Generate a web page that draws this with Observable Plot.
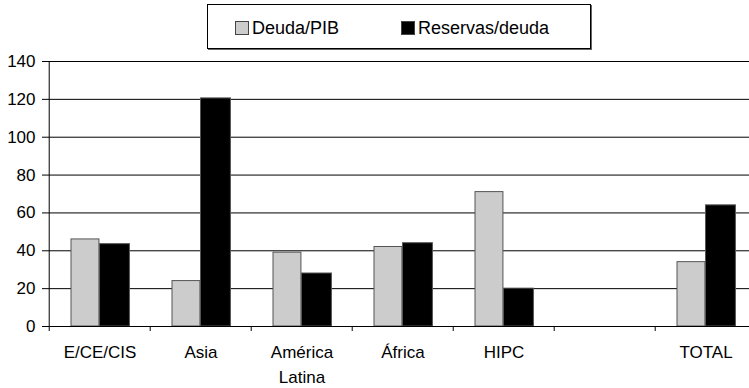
<!DOCTYPE html>
<html>
<head>
<meta charset="utf-8">
<script src="https://cdn.jsdelivr.net/npm/d3@7"></script>
<script src="https://cdn.jsdelivr.net/npm/@observablehq/plot@0.6"></script>
<style>
  html, body { margin: 0; padding: 0; background: #fff; overflow: hidden; }
  body { font-family: "Liberation Sans", Arial, sans-serif; width: 749px; height: 388px; }
  #legend { position: relative; height: 52px; }
  #legend .box {
    position: absolute; left: 207px; top: 4px; width: 382px; height: 43px;
    border: 1px solid #000; box-shadow: 1px 1px 0 #666;
    font-size: 18px; color: #000;
  }
  #legend .item { position: absolute; top: 12px; display: flex; align-items: center; line-height: 22px; }
  #legend .sw { width: 12px; height: 12px; border: 1px solid #444; margin-right: 3px; }
  #chart { width: 749px; overflow: hidden; }
  #chart svg { display: block; max-width: none !important; height: auto; }
</style>
</head>
<body>
<div id="legend"></div>
<div id="chart"></div>
<script>
// Categories (the blank one is a spacer before TOTAL)
const categories = ["E/CE/CIS", "Asia", "América\nLatina", "África", "HIPC", "", "TOTAL"];
// Debt / GDP (%)
const deudaPIB = [46, 24, 39, 42, 71, null, 34];
// Reserves / debt (%)
const reservasDeuda = [43.5, 120.5, 28, 44, 20, null, 64];
// Y axis ticks
const yTicks = [0, 20, 40, 60, 80, 100, 120, 140];
const seriesNames = ["Deuda/PIB", "Reservas/deuda"];
const seriesColors = ["#cccccc", "#000000"];

const rows = categories.map((c, i) => ({cat: c, deuda: deudaPIB[i], reservas: reservasDeuda[i]}))
  .filter(d => d.cat !== "");

// legend
const box = document.createElement("div");
box.className = "box";
const lefts = [27, 193];
seriesNames.forEach((name, i) => {
  const it = document.createElement("div");
  it.className = "item";
  it.style.left = lefts[i] + "px";
  const sw = document.createElement("span");
  sw.className = "sw";
  sw.style.background = seriesColors[i];
  it.appendChild(sw);
  it.appendChild(document.createTextNode(name));
  box.appendChild(it);
});
document.getElementById("legend").appendChild(box);

const width = 758, marginLeft = 47, marginRight = 0;
const step = (width - marginLeft - marginRight) / categories.length;

const chart = Plot.plot({
  width,
  height: 336,
  marginLeft,
  marginRight,
  marginTop: 9,
  marginBottom: 62,
  style: {fontFamily: "Liberation Sans, Arial, sans-serif", fontSize: "17px", color: "#000", background: "#fff", maxWidth: "none"},
  x: {domain: categories, padding: 0, axis: null},
  y: {domain: [0, 140], axis: null},
  marks: [
    Plot.gridY(yTicks.slice(1), {stroke: "#000", strokeOpacity: 1, strokeWidth: 1}),
    Plot.axisY(yTicks, {tickSize: 5, tickPadding: 7, fontSize: 17, label: null, stroke: "#000"}),
    Plot.barY(rows, {x: "cat", y: "deuda", fill: seriesColors[0], stroke: "#555", strokeWidth: 1, insetLeft: 22, insetRight: step - 50.5}),
    Plot.barY(rows, {x: "cat", y: "reservas", fill: seriesColors[1], stroke: "#555", strokeWidth: 1, insetLeft: 50.5, insetRight: step - 81}),
    Plot.ruleY([0], {stroke: "#000"}),
    Plot.ruleX([categories[0]], {y1: 0, y2: 140, dx: -step / 2, stroke: "#000"}),
    Plot.axisX({tickSize: 5, tickFormat: () => "", dx: -step / 2, label: null, stroke: "#000"}),
    Plot.axisX({tickSize: 0, tickPadding: 13, fontSize: 17, lineHeight: 1.5, label: null})
  ]
});
chart.style.maxWidth = "none";
document.getElementById("chart").appendChild(chart);
</script>
</body>
</html>
